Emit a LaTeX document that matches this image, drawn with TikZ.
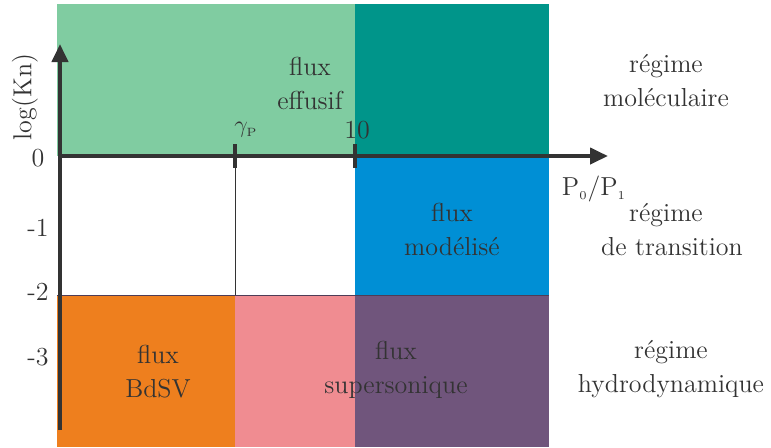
\documentclass[tikz,border=0pt]{standalone}
\usetikzlibrary{arrows.meta}
\definecolor{vertclair}{HTML}{80CCA1}
\definecolor{sarcelle}{HTML}{00958A}
\definecolor{bleu}{HTML}{008FD5}
\definecolor{orange}{HTML}{EE7F1E}
\definecolor{rose}{HTML}{F08C91}
\definecolor{violet}{HTML}{70557C}
\definecolor{texte}{HTML}{333333}
\tikzset{
  lbl/.style={text=texte, align=center, font=\fontsize{13}{17}\selectfont, inner sep=0pt},
  axe/.style={line width=2pt, draw=texte, -{Triangle[length=9pt,width=8pt]}},
  tick/.style={line width=1.6pt, draw=texte}
}
\begin{document}
\begin{tikzpicture}[x=0.5pt, y=-0.5pt]
\useasboundingbox (0,0) rectangle (771,447);
% zones
\fill [vertclair] (57,4) rectangle (355,156);
\fill [sarcelle] (355,4) rectangle (549,156);
\fill [bleu] (355,156) rectangle (549,295);
\fill [orange] (57,295) rectangle (235,447);
\fill [rose] (235,295) rectangle (355,447);
\fill [violet] (355,295) rectangle (549,447);
\draw [line width=0.4pt, draw=violet!70!black] (57,295) -- (549,295);
% axes
\coordinate (O) at (60,156);
\coordinate (ybas) at (60,430);
\coordinate (yhaut) at (60,44);
\coordinate (xfin) at (608,156);
\coordinate (gP) at (235,156);
\coordinate (dix) at (355,156);
\coordinate (gPbas) at (235,295);
\draw [line width=0.4pt, draw=texte] (gP) -- (gPbas);
\draw [axe] (ybas) -- (yhaut);
\draw [axe] ([xshift=-1pt]O) -- (xfin);
\draw [tick] ([yshift=6pt]gP) -- ([yshift=-6pt]gP);
\draw [tick] ([yshift=6pt]dix) -- ([yshift=-6pt]dix);
% graduations
\node [lbl] (k0) at (38,158) {0};
\node [lbl] (k1) at (38,228) {-1};
\node [lbl] (k2) at (38,292) {-2};
\node [lbl] (k3) at (38,357) {-3};
\node [lbl, rotate=90] (kn) at (25,97) {log(Kn)};
\node [lbl] (lgP) at (246,130) {$\gamma_{\scriptscriptstyle\mathrm{P}}$};
\node [lbl] (l10) at (357,130) {10};
\node [lbl] (lP) at (594,189) {P$_{\scriptscriptstyle 0}$/P$_{\scriptscriptstyle 1}$};
% zones : textes
\node [lbl] (eff) at (310,83) {flux\\effusif};
\node [lbl] (mod) at (452,229) {flux\\modélisé};
\node [lbl] (bdsv) at (158,372) {flux\\BdSV};
\node [lbl] (sup) at (396,370) {flux\\supersonique};
\node [lbl] (rmol) at (666,81) {régime\\moléculaire};
\node [lbl] (rtr) at (672,230) {\hspace*{-6pt}régime\\de transition};
\node [lbl] (rhyd) at (671,369) {régime\\hydrodynamique};
\end{tikzpicture}
\end{document}
